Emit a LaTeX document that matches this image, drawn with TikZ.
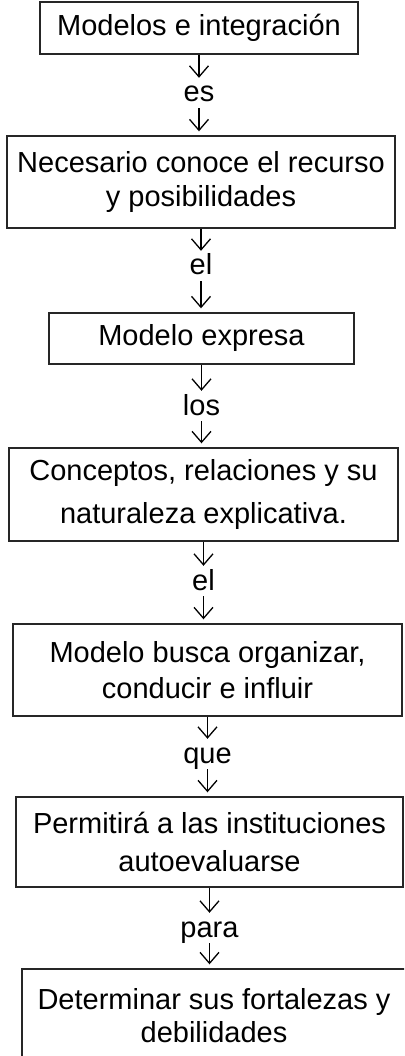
\documentclass[tikz,border=0pt]{standalone}
\usepackage{fontspec}
\setmainfont{Liberation Sans}
\usetikzlibrary{arrows.meta,positioning}

\begin{document}
\begin{tikzpicture}[x=1pt, y=-1pt,
    mbox/.style={draw=black!85, line width=1.4pt, rectangle, inner sep=0pt, align=center, font=\fontsize{29}{33}\selectfont},
    link/.style={inner sep=0pt, text height=20pt, text depth=6pt, font=\fontsize{29}{33}\selectfont},
    arrow/.style={-{Straight Barb[length=11pt,width=19pt]}, line width=1.3pt, shorten >=4pt}
]
\clip (0,0) rectangle (404,1056);

% --- boxes ---
\node[mbox, minimum width=318pt, minimum height=52pt] (modelos) at (199,28) {Modelos e integración};
\node[mbox, minimum width=388pt, minimum height=92pt] (necesario) at (201,182) {Necesario conoce el recurso\\[1pt] y posibilidades};
\node[mbox, minimum width=305pt, minimum height=51pt] (expresa) at (201.5,338.5) {Modelo expresa};
\node[mbox, minimum width=389pt, minimum height=93pt] (conceptos) at (203.5,494.5) {Conceptos, relaciones y su\\[10pt] naturaleza explicativa.};
\node[mbox, minimum width=389pt, minimum height=92pt] (busca) at (207.5,670) {Modelo busca organizar,\\[3pt] conducir e influir};
\node[mbox, minimum width=387pt, minimum height=90pt] (permite) at (209.5,842) {Permitirá a las instituciones\\[5pt] autoevaluarse};
\node[mbox, minimum width=384pt, minimum height=94pt] (determinar) at (214,1016) {Determinar sus fortalezas y\\ debilidades};

% --- link words ---
\node[link, anchor=base] (es) at (199,102) {es};
\node[link, anchor=base] (el) at (201,275) {el};
\node[link, anchor=base] (los) at (201.5,415) {los};
\node[link, anchor=base] (elb) at (203.5,590) {el};
\node[link, anchor=base] (que) at (207.5,763) {que};
\node[link, anchor=base] (para) at (209.5,937) {para};

% --- arrows ---
\draw[arrow] (modelos.south) -- (es.north);
\draw[arrow] (es.south) -- (es.south |- necesario.north);
\draw[arrow] (necesario.south -| el.north) -- (el.north);
\draw[arrow] (el.south) -- (el.south |- expresa.north);
\draw[arrow] (expresa.south) -- (los.north);
\draw[arrow] (los.south) -- (los.south |- conceptos.north);
\draw[arrow] (conceptos.south) -- (elb.north);
\draw[arrow] (elb.south) -- (elb.south |- busca.north);
\draw[arrow] (busca.south) -- (que.north);
\draw[arrow] (que.south) -- (que.south |- permite.north);
\draw[arrow] (permite.south) -- (para.north);
\draw[arrow] (para.south) -- (para.south |- determinar.north);

\end{tikzpicture}
\end{document}
